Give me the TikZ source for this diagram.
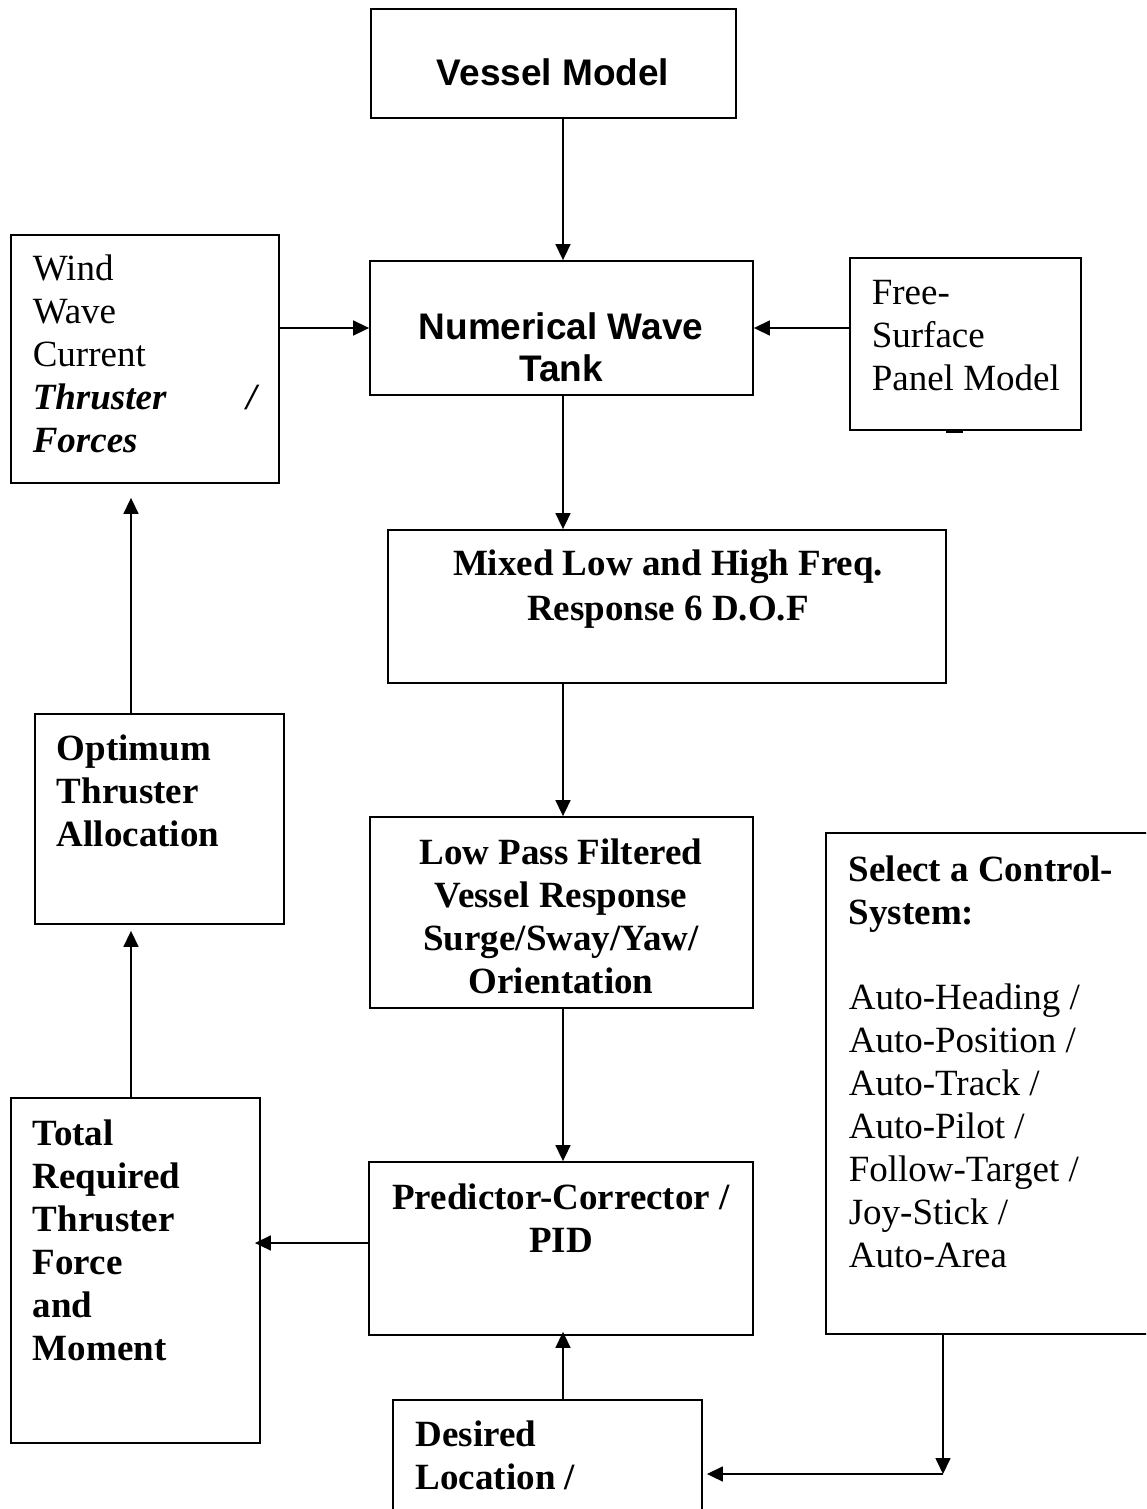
\documentclass[tikz,border=0pt]{standalone}
\usepackage{fontspec}
\setmainfont{Liberation Serif}
\newfontfamily\arialfont{Liberation Sans}
\usetikzlibrary{fit,arrows.meta}
\tikzset{%
	every block/.style={
		draw,
		line width=0.9pt,
		inner sep=0pt
	},
	line txt/.style={
		inner sep=0pt,
		font=\fontsize{18.5}{21.5}\selectfont
	},
	bold txt/.style={
		line txt,
		font=\fontsize{18.5}{21.5}\selectfont\bfseries
	},
	sans txt/.style={
		line txt,
		font=\fontsize{18.5}{21.5}\selectfont\arialfont\bfseries
	},
}
\begin{document}
\begin{tikzpicture}[x=0.5pt, y=-0.5pt, >={Triangle[length=8pt,width=7.5pt]}, line width=0.8pt]
	
	\clip (0,0) rectangle (1146,1509);
	
	% axes of the connectors
	\coordinate (ax) at (563,0);
	\coordinate (lx) at (131,0);
	\coordinate (py) at (0,1243);
	\coordinate (sc) at (943,1474);
	
	% blocks
	\node [every block, fit={(371,9) (736,118)}] (vessel) {};
	\node [every block, fit={(370,261) (753,395)}] (tank) {};
	\node [every block, fit={(11,235) (279,483)}] (env) {};
	\node [every block, fit={(850,258) (1081,430)}] (free) {};
	\node [every block, fit={(388,530) (946,683)}] (mixed) {};
	\node [every block, fit={(35,714) (284,924)}] (optimum) {};
	\node [every block, fit={(370,817) (753,1008)}] (lowpass) {};
	\node [every block, fit={(826,833) (1170,1334)}] (select) {};
	\node [every block, fit={(11,1098) (260,1443)}] (total) {};
	\node [every block, fit={(369,1162) (753,1335)}] (pid) {};
	\node [every block, fit={(393,1400) (702,1540)}] (desired) {};
	\draw [line width=1.3pt] (946,432) -- (963,432);
	
	% texts
	\node [sans txt, anchor=base] (vessel-t) at (553,86) {Vessel Model};
	
	\foreach \l [count=\i from 0] in {Numerical Wave, Tank}
	\node [sans txt, anchor=base] (tank-\i) at (561,339+\i*42) {\l};
	
	\foreach \l [count=\i from 0] in {Wind, Wave, Current, {\hbox to 112pt{\bfseries\itshape Thruster\hfill/}}, {\bfseries\itshape Forces}}
	\node [line txt, anchor=base west] (env-\i) at (32,280+\i*43) {\l};
	
	\foreach \l [count=\i from 0] in {Free-, Surface, Panel Model}
	\node [line txt, anchor=base west] (free-\i) at (871,304+\i*43) {\l};
	
	\foreach \l [count=\i from 0] in {Mixed Low and High Freq., Response 6 D.O.F}
	\node [bold txt, anchor=base] (mixed-\i) at (668,575+\i*45) {\l};
	
	\foreach \l [count=\i from 0] in {Optimum, Thruster, Allocation}
	\node [bold txt, anchor=base west] (optimum-\i) at (56,760+\i*43) {\l};
	
	\foreach \l [count=\i from 0] in {Low Pass Filtered, Vessel Response, Surge/Sway/Yaw/, Orientation}
	\node [bold txt, anchor=base] (lowpass-\i) at (561,864+\i*43) {\l};
	
	\foreach \l [count=\i from 0] in {Select a Control-, System:}
	\node [bold txt, anchor=base west] (select-\i) at (848,881+\i*43) {\l};
	
	\foreach \l [count=\i from 0] in {Auto-Heading /, Auto-Position /, Auto-Track /, Auto-Pilot /, Follow-Target /, Joy-Stick /, Auto-Area}
	\node [line txt, anchor=base west] (mode-\i) at (848,1009+\i*43) {\l};
	
	\foreach \l [count=\i from 0] in {Total, Required, Thruster, Force, and, Moment}
	\node [bold txt, anchor=base west] (total-\i) at (32,1145+\i*43) {\l};
	
	\foreach \l [count=\i from 0] in {Predictor-Corrector /, PID}
	\node [bold txt, anchor=base] (pid-\i) at (561,1209+\i*43) {\l};
	
	\foreach \l [count=\i from 0] in {Desired, Location /}
	\node [bold txt, anchor=base west] (desired-\i) at (415,1446+\i*43) {\l};
	
	% connectors
	\draw [->] (vessel.south -| ax) -- (tank.north -| ax);
	\draw [->] (env.east |- tank.west) -- (tank.west);
	\draw [->] (free.west |- tank.east) -- (tank.east);
	\draw [->] (tank.south -| ax) -- (mixed.north -| ax);
	\draw [->] (mixed.south -| ax) -- (lowpass.north -| ax);
	\draw [->] (lowpass.south -| ax) -- (pid.north -| ax);
	\draw [->, shorten >=7pt] (optimum.north -| lx) -- (env.south -| lx);
	\draw [->, shorten >=3pt] (total.north -| lx) -- (optimum.south -| lx);
	\draw [->, shorten >=-3pt] (pid.west |- py) -- (total.east |- py);
	\draw [->, shorten >=-2pt] (desired.north -| ax) -- (pid.south -| ax);
	\draw [->] (select.south -| sc) -- (sc);
	\draw [->, shorten >=2pt] (sc) -- (desired.east |- sc);
	
\end{tikzpicture}
\end{document}
